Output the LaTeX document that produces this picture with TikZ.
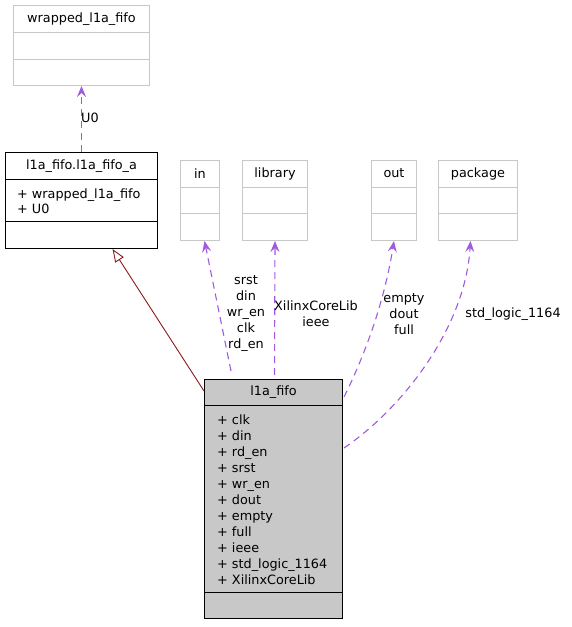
\documentclass[tikz,border=0pt]{standalone}
\usepackage{fontspec}
\setmainfont{DejaVu Sans}
\usetikzlibrary{arrows.meta,calc}
\definecolor{depcol}{HTML}{A05ADF}
\definecolor{inhcol}{HTML}{8B1A1A}
\definecolor{boxgray}{RGB}{200,200,200}
\definecolor{fillgray}{RGB}{200,200,200}
\begin{document}
\begin{tikzpicture}[x=1pt,y=-1pt,
  font=\fontsize{12.8}{16}\selectfont,
  greybox/.style={draw=boxgray, line width=1pt, inner sep=0pt, anchor=north west},
  blackbox/.style={draw=black, line width=1pt, inner sep=0pt, anchor=north west},
  greyline/.style={draw=boxgray, line width=1pt},
  blackline/.style={draw=black, line width=1pt},
  lbl/.style={inner sep=0pt, align=center},
  attr/.style={inner sep=0pt, anchor=base west},
  depline/.style={draw=depcol, line width=1.1pt, dash pattern=on 7pt off 5pt, -{Stealth[length=11pt,width=9pt,inset=4pt]}},
  inhline/.style={draw=inhcol, line width=0.9pt, -{Triangle[open,length=13pt,width=10pt]}}
]
\useasboundingbox (0,0) rectangle (571,627);

% wrapped_l1a_fifo
\node[greybox, minimum width=136pt, minimum height=80pt] (wrapped) at (13,5) {};
\draw[greyline] ($(wrapped.north west)+(0,27)$) -- ($(wrapped.north east)+(0,27)$);
\draw[greyline] ($(wrapped.north west)+(0,54)$) -- ($(wrapped.north east)+(0,54)$);
\node[lbl] (wrappedt) at ($(wrapped.north)+(0,14)$) {wrapped\_l1a\_fifo};

% l1a_fifo.l1a_fifo_a
\node[blackbox, minimum width=152pt, minimum height=96pt] (fifoa) at (5,152) {};
\draw[blackline] ($(fifoa.north west)+(0,27)$) -- ($(fifoa.north east)+(0,27)$);
\draw[blackline] ($(fifoa.north west)+(0,69)$) -- ($(fifoa.north east)+(0,69)$);
\node[lbl] (fifoat) at ($(fifoa.north)+(0,14.5)$) {l1a\_fifo.l1a\_fifo\_a};
\node[attr] (fa1) at (17,198) {+ wrapped\_l1a\_fifo};
\node[attr] (fa2) at (17,213) {+ U0};

% in
\node[greybox, minimum width=39pt, minimum height=80pt] (in) at (180,160) {};
\draw[greyline] ($(in.north west)+(0,27)$) -- ($(in.north east)+(0,27)$);
\draw[greyline] ($(in.north west)+(0,53)$) -- ($(in.north east)+(0,53)$);
\node[lbl] (int) at ($(in.north)+(0,13.5)$) {in};

% library
\node[greybox, minimum width=65pt, minimum height=80pt] (library) at (242,160) {};
\draw[greyline] ($(library.north west)+(0,27)$) -- ($(library.north east)+(0,27)$);
\draw[greyline] ($(library.north west)+(0,53)$) -- ($(library.north east)+(0,53)$);
\node[lbl] (libraryt) at ($(library.north)+(0,13.5)$) {library};

% out
\node[greybox, minimum width=45pt, minimum height=80pt] (out) at (371,160) {};
\draw[greyline] ($(out.north west)+(0,27)$) -- ($(out.north east)+(0,27)$);
\draw[greyline] ($(out.north west)+(0,53)$) -- ($(out.north east)+(0,53)$);
\node[lbl] (outt) at ($(out.north)+(0,13.5)$) {out};

% package
\node[greybox, minimum width=79pt, minimum height=80pt] (package) at (438,160) {};
\draw[greyline] ($(package.north west)+(0,27)$) -- ($(package.north east)+(0,27)$);
\draw[greyline] ($(package.north west)+(0,53)$) -- ($(package.north east)+(0,53)$);
\node[lbl] (packaget) at ($(package.north)+(0,13.5)$) {package};

% l1a_fifo
\node[blackbox, fill=fillgray, minimum width=138pt, minimum height=239pt] (fifo) at (204,379) {};
\draw[blackline] ($(fifo.north west)+(0,26)$) -- ($(fifo.north east)+(0,26)$);
\draw[blackline] ($(fifo.north west)+(0,213)$) -- ($(fifo.north east)+(0,213)$);
\node[lbl] (fifot) at ($(fifo.north)+(0,13.5)$) {l1a\_fifo};
\node[attr] (f1) at (217,424) {+ clk};
\node[attr] (f2) at (217,440) {+ din};
\node[attr] (f3) at (217,456) {+ rd\_en};
\node[attr] (f4) at (217,472) {+ srst};
\node[attr] (f5) at (217,488) {+ wr\_en};
\node[attr] (f6) at (217,504) {+ dout};
\node[attr] (f7) at (217,520) {+ empty};
\node[attr] (f8) at (217,536) {+ full};
\node[attr] (f9) at (217,552) {+ ieee};
\node[attr] (f10) at (217,568) {+ std\_logic\_1164};
\node[attr] (f11) at (217,584) {+ XilinxCoreLib};

% connectors
\draw[depline] (fifoa.north) -- (wrapped.south);
\node[lbl] (u0) at (90,118) {U0};

\draw[inhline] ($(fifo.north west)+(0,12)$) -- ($(fifoa.south)+(31,0)$);

\draw[depline] ($(fifo.north west)+(27,-8)$) -- ($(in.south)+(4.5,0)$);
\node[lbl] (inl) at (246,314) {srst\\din\\wr\_en\\clk\\rd\_en};

\draw[depline] ($(fifo.north west)+(70.5,-4)$) -- (library.south);
\node[lbl] (libl) at (316,314) {XilinxCoreLib\\ieee};

\draw[depline] ($(fifo.north east)+(1,18)$) .. controls (360,365) and (383,310) .. (out.south);
\node[lbl] (outl) at (404,314) {empty\\dout\\full};

\draw[depline] ($(fifo.north east)+(1,69)$) .. controls (400,410) and (465,330) .. ($(package.south)+(-7.5,0)$);
\node[lbl] (pkgl) at (513,314) {std\_logic\_1164};
\end{tikzpicture}
\end{document}
